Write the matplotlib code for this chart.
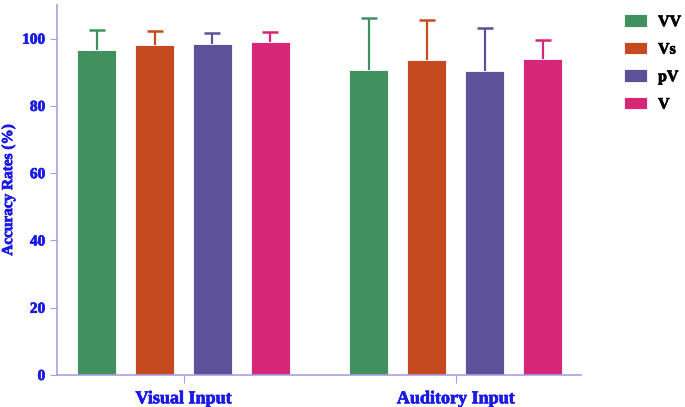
import matplotlib.pyplot as plt
import matplotlib.patheffects as pe
import numpy as np

groups = ['Visual Input', 'Auditory Input']
conditions = ['VV', 'Vs', 'pV', 'V']
colors = ['#41915f', '#c64a1f', '#5d519a', '#d72677']

# mean accuracy (%) per condition, one value per group
means = {
    'VV': [96.6, 90.8],
    'Vs': [98.0, 93.6],
    'pV': [98.5, 90.4],
    'V':  [99.1, 93.9],
}
# error (upper only)
errs = {
    'VV': [6.1, 15.2],
    'Vs': [4.4, 12.0],
    'pV': [3.3, 12.7],
    'V':  [2.8, 5.8],
}

txt_col = '#1a1ae6'
ax_col = '#a99fe0'
plt.rcParams['font.family'] = ['Liberation Serif', 'DejaVu Serif']
plt.rcParams['font.weight'] = 'bold'

fig = plt.figure(figsize=(6.85, 4.07), dpi=100)
ax = fig.add_axes([0.0832, 0.0786, 0.7650, 0.9091])

X = np.arange(len(groups))
step = 0.213
width = 0.143
for i, c in enumerate(conditions):
    pos = X + (i - 1.5) * step
    m = np.array(means[c])
    e = np.array(errs[c])
    ax.bar(pos, m, width, color=colors[i], edgecolor='white', linewidth=0.6,
           label=c, zorder=2)
    # upper error only: stem + cap on top
    ax.errorbar(pos, m, yerr=[np.zeros_like(e), e], fmt='none', ecolor=colors[i],
                elinewidth=1.6, capsize=0, zorder=1)
    ax.plot(pos, m + e, ls='none', marker='_', ms=11, mew=1.8, color=colors[i], zorder=1)

ax.set_xlim(-0.465, 1.461)
ax.set_ylim(0, 110)
ax.set_yticks([0, 20, 40, 60, 80, 100])
ax.set_xticks(X)
ax.set_xticklabels(groups, fontsize=13, fontweight='bold', color=txt_col)
ax.tick_params(axis='x', length=6, color=ax_col, pad=5)
ax.tick_params(axis='y', length=5, color=ax_col, labelsize=11, labelcolor=txt_col)
ax.set_ylabel('Accuracy Rates (%)', fontsize=11, fontweight='bold', color=txt_col, labelpad=5)

for s in ['top', 'right']:
    ax.spines[s].set_visible(False)
for s in ['left', 'bottom']:
    ax.spines[s].set_color(ax_col)
    ax.spines[s].set_linewidth(1.2)

leg = ax.legend(loc='upper left', bbox_to_anchor=(0.9, 0.985), bbox_transform=fig.transFigure,
                frameon=False, handlelength=1.4, handleheight=0.8, handletextpad=0.7,
                labelspacing=0.72, borderpad=0, prop={'weight': 'bold', 'size': 11.5})

# thicken text a little to match heavy bold of the original
thick = [pe.withStroke(linewidth=0.5, foreground=txt_col)]
for t in ax.get_xticklabels() + ax.get_yticklabels() + [ax.yaxis.label]:
    t.set_fontweight('bold')
    t.set_path_effects(thick)
for t in leg.get_texts():
    t.set_path_effects([pe.withStroke(linewidth=0.5, foreground='black')])

fig.savefig('out.png', dpi=100)
